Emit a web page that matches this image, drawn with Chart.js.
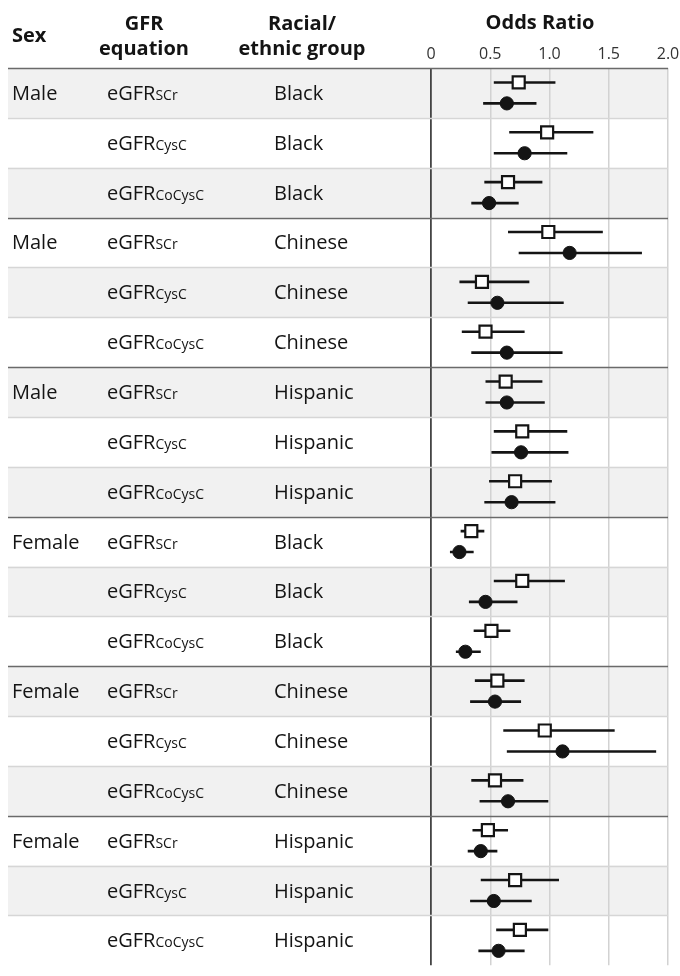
<!DOCTYPE html>
<html>
<head>
<meta charset="utf-8">
<script src="https://cdn.jsdelivr.net/npm/chart.js@4"></script>
<style>
  body { margin: 0; background: #fff; }
  canvas { display: block; }
</style>
</head>
<body>
<canvas id="myChart" width="680" height="976"></canvas>
<script>
// ----- data ----- //
var sexLabels = ["Male", "", "", "Male", "", "", "Male", "", "",
  "Female", "", "", "Female", "", "", "Female", "", ""];
var equationSubs = ["SCr", "CysC", "CoCysC", "SCr", "CysC", "CoCysC", "SCr", "CysC", "CoCysC",
  "SCr", "CysC", "CoCysC", "SCr", "CysC", "CoCysC", "SCr", "CysC", "CoCysC"];
var raceLabels = ["Black", "Black", "Black", "Chinese", "Chinese", "Chinese",
  "Hispanic", "Hispanic", "Hispanic", "Black", "Black", "Black",
  "Chinese", "Chinese", "Chinese", "Hispanic", "Hispanic", "Hispanic"];

// open squares
var squareOR = [0.74, 0.98, 0.65, 0.99, 0.43, 0.46, 0.63, 0.77, 0.71,
  0.34, 0.77, 0.51, 0.56, 0.96, 0.54, 0.48, 0.71, 0.75];
var squareLo = [0.53, 0.66, 0.45, 0.65, 0.24, 0.26, 0.46, 0.53, 0.49,
  0.25, 0.53, 0.36, 0.37, 0.61, 0.34, 0.35, 0.42, 0.55];
var squareHi = [1.05, 1.37, 0.94, 1.45, 0.83, 0.79, 0.94, 1.15, 1.02,
  0.45, 1.13, 0.67, 0.79, 1.55, 0.78, 0.65, 1.08, 0.99];

// filled circles
var circleOR = [0.64, 0.79, 0.49, 1.17, 0.56, 0.64, 0.64, 0.76, 0.68,
  0.24, 0.46, 0.29, 0.54, 1.11, 0.65, 0.42, 0.53, 0.57];
var circleLo = [0.44, 0.53, 0.34, 0.74, 0.31, 0.34, 0.46, 0.51, 0.45,
  0.16, 0.32, 0.21, 0.33, 0.64, 0.41, 0.31, 0.33, 0.40];
var circleHi = [0.89, 1.15, 0.74, 1.78, 1.12, 1.11, 0.96, 1.16, 1.05,
  0.36, 0.73, 0.42, 0.76, 1.90, 0.99, 0.56, 0.85, 0.79];

var tickValues = [0, 0.5, 1.0, 1.5, 2.0];
var tickLabels = ["0", "0.5", "1.0", "1.5", "2.0"];

// ----- chart ----- //
var FONT = "'Open Sans', 'DejaVu Sans', sans-serif";
var INK = "#141414";
var OFF = 0.21;

var datasets = [];

datasets.push({
  type: "scatter",
  order: 0,
  data: squareOR.map(function (v, i) { return { x: v, y: i - OFF }; }),
  pointStyle: "rect",
  pointRadius: 8.5,
  backgroundColor: "#ffffff",
  borderColor: INK,
  borderWidth: 2.2,
});
datasets.push({
  type: "scatter",
  order: 0,
  data: circleOR.map(function (v, i) { return { x: v, y: i + OFF }; }),
  pointStyle: "circle",
  pointRadius: 6.6,
  backgroundColor: INK,
  borderColor: INK,
  borderWidth: 1,
});

for (var i = 0; i < squareOR.length; ++i) {
  datasets.push({
    type: "line",
    order: 1,
    data: [{ x: squareLo[i], y: i - OFF }, { x: squareHi[i], y: i - OFF }],
    borderColor: INK,
    borderWidth: 2.6,
    pointRadius: 0,
  });
  datasets.push({
    type: "line",
    order: 1,
    data: [{ x: circleLo[i], y: i + OFF }, { x: circleHi[i], y: i + OFF }],
    borderColor: INK,
    borderWidth: 2.6,
    pointRadius: 0,
  });
}

var tablePlugin = {
  id: "table",
  beforeDraw: function (chart) {
    var ctx = chart.ctx;
    var xs = chart.scales.x, ys = chart.scales.y;
    ctx.save();
    ctx.fillStyle = "#ffffff";
    ctx.fillRect(0, 0, chart.width, chart.height);
    var right = xs.getPixelForValue(2);
    for (var i = 0; i < raceLabels.length; ++i) {
      if (i % 2 === 0) {
        var top = ys.getPixelForValue(i - 0.5);
        var bottom = ys.getPixelForValue(i + 0.5);
        ctx.fillStyle = "#f1f1f1";
        ctx.fillRect(8, top, right - 8, bottom - top);
      }
    }
    ctx.restore();
  },
  beforeDatasetsDraw: function (chart) {
    var ctx = chart.ctx;
    var xs = chart.scales.x, ys = chart.scales.y;
    var right = xs.getPixelForValue(2);
    ctx.save();
    for (var i = 0; i < raceLabels.length; ++i) {
      var y = Math.round(ys.getPixelForValue(i - 0.5)) + 0.5;
      ctx.beginPath();
      if (i % 3 === 0) {
        ctx.strokeStyle = "#6a6a6a";
        ctx.lineWidth = 1.6;
      } else {
        ctx.strokeStyle = "#d6d6d6";
        ctx.lineWidth = 1.4;
      }
      ctx.moveTo(8, y);
      ctx.lineTo(right, y);
      ctx.stroke();
    }
    ctx.restore();
  },
  afterDraw: function (chart) {
    var ctx = chart.ctx;
    var ys = chart.scales.y;
    ctx.save();
    ctx.fillStyle = INK;

    // header
    ctx.font = "bold 20px " + FONT;
    ctx.textAlign = "left";
    ctx.fillText("Sex", 12, 42);
    ctx.textAlign = "center";
    ctx.fillText("GFR", 144, 30);
    ctx.fillText("equation", 144, 55);
    ctx.fillText("Racial/", 302, 30);
    ctx.fillText("ethnic group", 302, 55);
    ctx.fillText("Odds Ratio", 540, 29);

    // rows
    ctx.textAlign = "left";
    for (var i = 0; i < raceLabels.length; ++i) {
      var base = ys.getPixelForValue(i) + 7;
      ctx.font = "20px " + FONT;
      if (sexLabels[i]) ctx.fillText(sexLabels[i], 12, base);
      ctx.fillText("eGFR", 107, base);
      var w = ctx.measureText("eGFR").width;
      ctx.fillText(raceLabels[i], 274, base);
      ctx.font = "14px " + FONT;
      ctx.fillText(equationSubs[i], 107 + w, base);
    }
    ctx.restore();
  },
};

new Chart(document.getElementById("myChart"), {
  data: { datasets: datasets },
  options: {
    responsive: false,
    animation: false,
    layout: { padding: { left: 431, right: 12, top: 0, bottom: 0 } },
    plugins: {
      legend: { display: false },
      tooltip: { enabled: false },
    },
    scales: {
      x: {
        type: "linear",
        position: "top",
        min: 0,
        max: 2,
        afterBuildTicks: function (scale) {
          scale.ticks = tickValues.map(function (v) { return { value: v }; });
        },
        afterFit: function (scale) {
          scale.height = 68;
          scale.paddingLeft = 0;
          scale.paddingRight = 0;
        },
        ticks: {
          padding: 4,
          color: "#333333",
          font: { family: FONT, size: 16 },
          callback: function (value) {
            return tickLabels[tickValues.indexOf(value)];
          },
        },
        grid: {
          drawTicks: false,
          lineWidth: function (c) { return c.tick && c.tick.value === 0 ? 1.8 : 1.5; },
          color: function (c) { return c.tick && c.tick.value === 0 ? "#444444" : "#d2d2d2"; },
        },
        border: { display: false },
      },
      y: {
        type: "linear",
        display: false,
        reverse: true,
        min: -0.5,
        max: 17.5,
      },
    },
  },
  plugins: [tablePlugin],
});
</script>
</body>
</html>
